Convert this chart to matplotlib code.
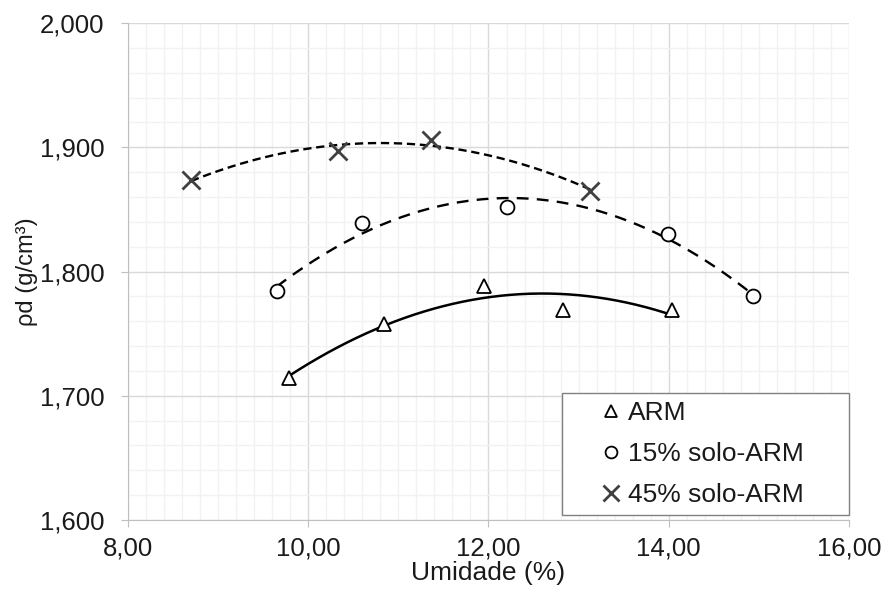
import numpy as np
import matplotlib.pyplot as plt
from matplotlib.ticker import FuncFormatter, MultipleLocator

plt.rcParams['font.family'] = ['Liberation Sans', 'DejaVu Sans']

# umidade (%) e densidade seca (g/cm3)
arm_x = [9.79, 10.84, 11.95, 12.83, 14.04]
arm_y = [1.714, 1.758, 1.788, 1.769, 1.769]

s15_x = [9.65, 10.60, 12.20, 13.99, 14.94]
s15_y = [1.784, 1.839, 1.852, 1.830, 1.780]

s45_x = [8.70, 10.33, 11.36, 13.13]
s45_y = [1.874, 1.897, 1.906, 1.865]

labels = ['ARM', '15% solo-ARM', '45% solo-ARM']

fig = plt.figure(figsize=(8.85, 5.95), dpi=100)
ax = fig.add_axes([0.1446, 0.126, 0.8147, 0.8353])


def trend(x, y):
    # linha de tendencia polinomial de ordem 2 (como no Excel)
    c = np.polyfit(x, y, 2)
    xs = np.linspace(min(x), max(x), 200)
    return xs, np.polyval(c, xs)


xs, ys = trend(arm_x, arm_y)
ax.plot(xs, ys, color='black', lw=1.8, zorder=3)
xs, ys = trend(s15_x, s15_y)
ax.plot(xs, ys, color='black', lw=1.7, dashes=(5, 3.5), zorder=3)
xs, ys = trend(s45_x, s45_y)
ax.plot(xs, ys, color='black', lw=1.7, dashes=(3.5, 2), zorder=3)

h1, = ax.plot(arm_x, arm_y, ls='none', marker='^', ms=10, mfc='white',
              mec='black', mew=1.3, zorder=4)
h2, = ax.plot(s15_x, s15_y, ls='none', marker='o', ms=10, mfc='white',
              mec='black', mew=1.3, zorder=4)
h3, = ax.plot(s45_x, s45_y, ls='none', marker='x', ms=13, mec='#404040',
              mew=2.0, zorder=4)

ax.set_xlim(8, 16)
ax.set_ylim(1.6, 2.0)
ax.xaxis.set_major_locator(MultipleLocator(2))
ax.xaxis.set_minor_locator(MultipleLocator(0.2))
ax.yaxis.set_major_locator(MultipleLocator(0.1))
ax.yaxis.set_minor_locator(MultipleLocator(0.02))
ax.xaxis.set_major_formatter(FuncFormatter(lambda v, p: f'{v:.2f}'.replace('.', ',')))
ax.yaxis.set_major_formatter(FuncFormatter(lambda v, p: f'{v:.3f}'.replace('.', ',')))

ax.grid(which='major', color='#d9d9d9', lw=1.0, zorder=0)
ax.grid(which='minor', color='#f2f2f2', lw=1.0, zorder=0)
ax.set_axisbelow(True)

for s in ['top', 'right']:
    ax.spines[s].set_visible(False)
for s in ['left', 'bottom']:
    ax.spines[s].set_color('#bfbfbf')
ax.tick_params(which='major', length=5, color='#bfbfbf', labelsize=18.5,
               labelcolor='#1a1a1a', direction='out')
ax.tick_params(axis='y', pad=12)
ax.tick_params(axis='x', pad=7)
ax.tick_params(which='minor', length=0)

ax.set_xlabel('Umidade (%)', fontsize=19, color='#1a1a1a', labelpad=0)
ax.set_ylabel('ρd (g/cm³)', fontsize=17, color='#1a1a1a', labelpad=1)

leg = ax.legend([h1, h2, h3], labels, loc='lower left',
                bbox_to_anchor=(0.602, 0.010, 0.398, 0.252), mode='expand',
                fontsize=19, frameon=True, fancybox=False, borderpad=0.3,
                borderaxespad=0, handlelength=3.1, handletextpad=-0.9,
                labelspacing=0.65, markerscale=0.85)
leg.get_frame().set_edgecolor('#808080')
leg.get_frame().set_linewidth(1.0)
leg.get_frame().set_alpha(1.0)
for t in leg.get_texts():
    t.set_color('#1a1a1a')

fig.savefig('out.png', dpi=100)
